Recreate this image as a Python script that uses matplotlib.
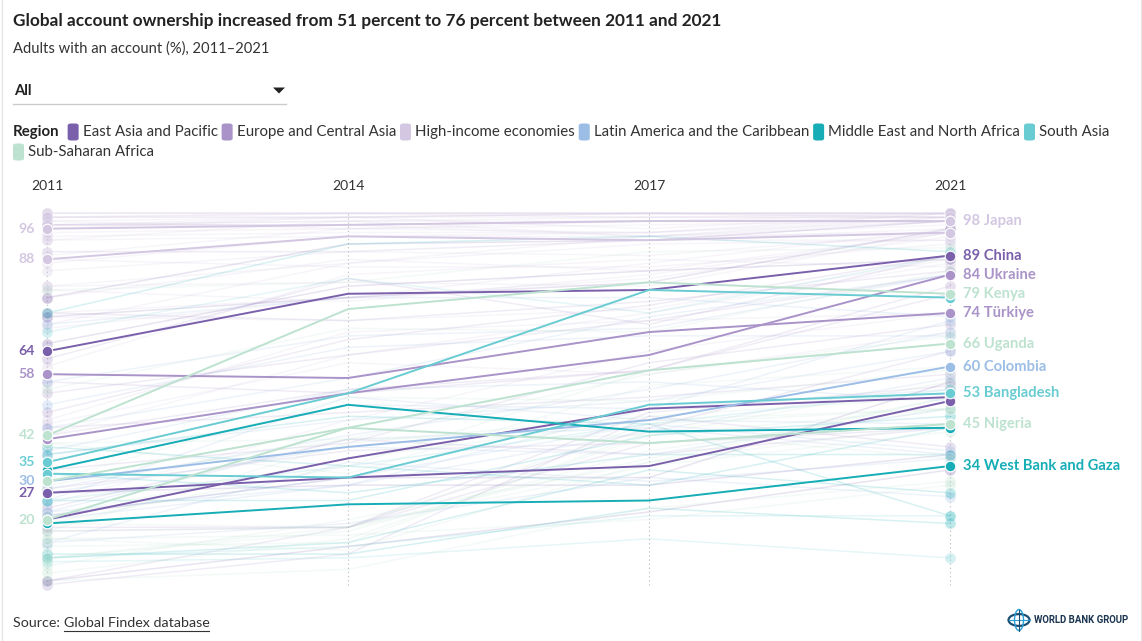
import matplotlib
matplotlib.use("Agg")
import matplotlib.pyplot as plt
from matplotlib.patches import FancyBboxPatch, Circle, Polygon, Ellipse
from matplotlib.lines import Line2D

W, H = 1142, 641
FONT = "Lato"
plt.rcParams['font.family'] = [FONT, 'DejaVu Sans']

years = ["2011", "2014", "2017", "2021"]
region_names = ["East Asia and Pacific", "Europe and Central Asia", "High-income economies",
                "Latin America and the Caribbean", "Middle East and North Africa",
                "South Asia", "Sub-Saharan Africa"]
region_codes = ["EAP", "ECA", "HI", "LAC", "MENA", "SA", "SSA"]
region_colors = ["#7a5fab", "#a993c8", "#d3c7e2", "#9bbde6", "#16adb6", "#69ccd2", "#bde2d0"]

countries = (
    # HI
    ["Japan", "United States", "Australia", "Austria", "Belgium", "Canada", "Denmark", "Finland",
     "France", "Germany", "Netherlands", "Norway", "Sweden", "United Kingdom", "Spain", "Italy",
     "Greece", "Portugal", "Korea", "Singapore", "Israel", "Saudi Arabia", "United Arab Emirates",
     "Chile", "Uruguay", "Poland", "Hungary", "Croatia", "Czechia", "Slovakia", "Slovenia",
     "Latvia", "Lithuania", "Estonia", "Romania", "Hong Kong", "Taiwan", "New Zealand",
     "Ireland", "Cyprus", "Malta"]
    # ECA
    + ["Ukraine", "Türkiye", "Russia", "Kazakhstan", "Serbia", "Bulgaria", "Georgia", "Armenia",
       "Albania", "North Macedonia", "Bosnia and Herzegovina", "Moldova", "Kyrgyz Republic",
       "Tajikistan", "Uzbekistan", "Kosovo"]
    # EAP
    + ["China", "Indonesia", "Philippines", "Cambodia", "Vietnam", "Thailand", "Malaysia",
       "Mongolia", "Lao PDR"]
    # LAC
    + ["Colombia", "Brazil", "Mexico", "Argentina", "Peru", "Bolivia", "Ecuador", "Paraguay",
       "Costa Rica", "Dominican Republic", "El Salvador", "Guatemala", "Honduras", "Nicaragua",
       "Panama", "Venezuela", "Jamaica"]
    # MENA
    + ["West Bank and Gaza", "Algeria", "Egypt", "Morocco", "Tunisia", "Jordan", "Lebanon",
       "Iran", "Iraq"]
    # SA
    + ["India", "Bangladesh", "Pakistan", "Sri Lanka", "Nepal", "Afghanistan"]
    # SSA
    + ["Kenya", "Uganda", "Nigeria", "South Africa", "Ghana", "Tanzania", "Zambia", "Zimbabwe",
       "Mozambique", "Senegal", "Cameroon", "Benin", "Burkina Faso", "Mali", "Guinea", "Malawi",
       "Sierra Leone", "Togo", "Liberia", "Mauritius", "Gabon", "Botswana"]
)
regions = ["HI"] * 41 + ["ECA"] * 16 + ["EAP"] * 9 + ["LAC"] * 17 + ["MENA"] * 9 + ["SA"] * 6 + ["SSA"] * 22

v2011 = ([96, 88, 99, 97, 97, 96, 100, 100, 97, 98, 99, 100, 99, 97, 93, 71, 78, 81, 93, 98, 90,
          46, 60, 42, 24, 70, 73, 88, 81, 80, 97, 90, 74, 97, 45, 89, 87, 99, 94, 85, 95]
         + [41, 58, 48, 42, 62, 53, 33, 17, 28, 74, 56, 18, 4, 3, 23, 44]
         + [64, 20, 27, 4, 21, 73, 66, 78, 27]
         + [30, 56, 27, 33, 20, 28, 37, 22, 50, 38, 14, 22, 21, 14, 25, 44, 71]
         + [19, 33, 10, 39, 32, 25, 37, 74, 11]
         + [35, 32, 10, 69, 25, 9]
         + [42, 20, 30, 54, 29, 17, 21, 40, 40, 6, 15, 10, 13, 8, 4, 17, 15, 10, 19, 80, 19, 30])
v2014 = ([97, 94, 99, 97, 98, 99, 100, 100, 97, 99, 99, 100, 100, 99, 98, 87, 88, 87, 94, 96, 90,
          69, 84, 63, 46, 78, 72, 86, 82, 77, 97, 90, 78, 98, 61, 96, 94, 100, 95, 90, 96]
         + [53, 57, 67, 54, 83, 63, 40, 18, 38, 72, 53, 18, 18, 11, 41, 48]
         + [79, 36, 31, 13, 31, 78, 81, 92, 29]
         + [39, 68, 39, 50, 29, 42, 46, 29, 65, 54, 35, 41, 31, 19, 52, 57, 78]
         + [24, 50, 14, 34, 27, 25, 47, 92, 11]
         + [53, 31, 13, 83, 34, 10]
         + [75, 44, 44, 70, 41, 40, 36, 32, 41, 15, 12, 17, 14, 20, 7, 18, 16, 18, 18, 82, 34, 52])
v2017 = ([98, 93, 100, 98, 99, 100, 100, 100, 94, 99, 100, 100, 100, 96, 94, 94, 85, 92, 95, 98, 93,
          72, 88, 74, 64, 87, 75, 86, 81, 84, 98, 93, 83, 98, 58, 95, 94, 99, 95, 89, 97]
         + [63, 69, 76, 59, 71, 72, 61, 48, 40, 77, 59, 44, 40, 47, 37, 52]
         + [80, 49, 34, 22, 31, 82, 85, 93, 29]
         + [46, 70, 37, 49, 43, 54, 51, 49, 68, 56, 30, 44, 45, 31, 46, 73, 78]
         + [25, 43, 33, 29, 37, 42, 45, 94, 23]
         + [80, 50, 21, 74, 45, 15]
         + [82, 59, 40, 69, 58, 47, 46, 55, 42, 42, 35, 38, 43, 35, 23, 34, 20, 45, 36, 90, 59, 51])
v2021 = ([98, 95, 99, 100, 99, 100, 100, 100, 99, 100, 100, 99, 100, 100, 98, 97, 95, 93, 99, 98, 93,
          74, 86, 87, 74, 96, 88, 92, 95, 95, 98, 96, 94, 99, 69, 98, 95, 99, 100, 95, 98]
         + [84, 74, 89, 81, 89, 84, 71, 55, 44, 85, 79, 64, 45, 39, 44, 58]
         + [89, 52, 51, 33, 56, 96, 88, 98, 37]
         + [60, 84, 49, 72, 57, 69, 64, 54, 68, 51, 36, 37, 38, 26, 45, 84, 73]
         + [34, 44, 27, 44, 37, 47, 21, 90, 19]
         + [78, 53, 21, 89, 54, 10]
         + [79, 66, 45, 85, 68, 52, 49, 60, 49, 56, 52, 49, 36, 45, 30, 43, 29, 49, 52, 91, 66, 59])

highlight = ["Japan", "United States", "China", "Indonesia", "Philippines", "Ukraine", "Türkiye",
             "Colombia", "Algeria", "West Bank and Gaza", "India", "Bangladesh", "Kenya",
             "Uganda", "Nigeria"]
right_labeled = ["Japan", "China", "Ukraine", "Kenya", "Türkiye", "Uganda", "Colombia",
                 "Bangladesh", "Nigeria", "West Bank and Gaza"]
left_labeled = ["Japan", "United States", "China", "Türkiye", "Kenya", "India", "Colombia",
                "Philippines", "Uganda"]

color_of = dict(zip(region_codes, region_colors))

fig = plt.figure(figsize=(W / 100, H / 100), dpi=100)
fig.patch.set_facecolor("white")


def ftext(x, y, s, **kw):
    return fig.text(x / W, 1 - y / H, s, **kw)


# ---- header ----
ftext(13, 21, "Global account ownership increased from 51 percent to 76 percent between 2011 and 2021",
      fontsize=12.45, fontweight="bold", color="#222222", va="center", ha="left")
ftext(13, 49, "Adults with an account (%), 2011–2021", fontsize=10.6, color="#333333",
      va="center", ha="left")
ftext(14, 91, "All", fontsize=10.6, fontweight="bold", color="#222222", va="center", ha="left")
fig.add_artist(Line2D([13 / W, 286 / W], [1 - 104 / H, 1 - 104 / H], color="#cccccc", lw=1))
fig.add_artist(Polygon([[273 / W, 1 - 87.5 / H], [285 / W, 1 - 87.5 / H], [279 / W, 1 - 93.5 / H]],
                       closed=True, color="#222222", lw=0))

# ---- legend (sequential layout) ----
fig.canvas.draw()
renderer = fig.canvas.get_renderer()
LFS = 10.8
t = ftext(13, 132, "Region", fontsize=LFS, fontweight="bold", color="#222222", va="center", ha="left")
x = t.get_window_extent(renderer).x1 + 8
row_y = 132
for name, col in zip(region_names, region_colors):
    tw_probe = fig.text(0, 0, name, fontsize=LFS)
    tw = tw_probe.get_window_extent(renderer).width
    tw_probe.remove()
    if x + 16 + tw > 1130:
        x = 13
        row_y = 152
    fig.add_artist(FancyBboxPatch((x / W, 1 - (row_y + 8.5) / H), 11 / W, 17 / H,
                                  boxstyle="round,pad=0,rounding_size=0.003", color=col, lw=0))
    tt = ftext(x + 15, row_y, name, fontsize=LFS, color="#333333", va="center", ha="left")
    x = tt.get_window_extent(renderer).x1 + 4

# ---- chart ----
x_px = [47, 348, 649, 950]
y0_px, y100_px = 596.2, 213.4
ax = fig.add_axes([x_px[0] / W, (H - y0_px) / H, (x_px[-1] - x_px[0]) / W, (y0_px - y100_px) / H])
ax.set_xlim(0, 3)
ax.set_ylim(0, 100)
ax.axis("off")
xs = [0, 1, 2, 3]

for xi, yr in zip(x_px, years):
    ftext(xi, 186, yr, fontsize=10, color="#333333", ha="center", va="center")
for xv in xs:
    ax.plot([xv, xv], [3, 100], ls=(0, (1.2, 2.5)), color="#c4c4c4", lw=0.8, clip_on=False, zorder=0)

for i, c in enumerate(countries):
    if c in highlight:
        continue
    col = color_of[regions[i]]
    vals = [v2011[i], v2014[i], v2017[i], v2021[i]]
    ax.plot(xs, vals, color=col, alpha=0.17, lw=1.1, clip_on=False, zorder=1)
    ax.scatter([0, 3], [vals[0], vals[3]], s=62, color=col, alpha=0.28, edgecolors="white",
               linewidths=0.6, zorder=2, clip_on=False)

for c in highlight:
    i = countries.index(c)
    col = color_of[regions[i]]
    vals = [v2011[i], v2014[i], v2017[i], v2021[i]]
    ax.plot(xs, vals, color=col, lw=1.4, clip_on=False, zorder=4, solid_capstyle="round")
    ax.scatter([0, 3], [vals[0], vals[3]], s=58, color=col, edgecolors="white", linewidths=0.8,
               zorder=5, clip_on=False)

for c in right_labeled:
    i = countries.index(c)
    ax.annotate(f"{v2021[i]} {c}", xy=(3, v2021[i]), xytext=(9.5, 0), textcoords="offset points",
                ha="left", va="center", fontsize=10.6, fontweight="bold", color=color_of[regions[i]],
                annotation_clip=False)
for c in left_labeled:
    i = countries.index(c)
    ax.annotate(f"{v2011[i]}", xy=(0, v2011[i]), xytext=(-8.5, 0), textcoords="offset points",
                ha="right", va="center", fontsize=10.2, fontweight="bold", color=color_of[regions[i]],
                annotation_clip=False)

# ---- footer ----
s1 = ftext(13, 623, "Source: ", fontsize=10.3, color="#333333", va="center", ha="left")
sx = s1.get_window_extent(renderer).x1
s2 = ftext(sx, 623, "Global Findex database", fontsize=10.3, color="#333333", va="center", ha="left")
bb = s2.get_window_extent(renderer)
fig.add_artist(Line2D([bb.x0 / W, bb.x1 / W], [1 - 631 / H, 1 - 631 / H], color="#333333", lw=0.8))

# World Bank Group logo
lx, ly, r = 1019, 620, 10.5
fig.add_artist(Circle((lx / W, 1 - ly / H), r / W, transform=fig.transFigure, fill=False,
                      edgecolor="#1c4f72", lw=1.6))
fig.add_artist(Ellipse((lx / W, 1 - ly / H), 9 / W, 21 / H, transform=fig.transFigure, fill=False,
                       edgecolor="#2a9fd6", lw=1.0))
fig.add_artist(Line2D([(lx - r) / W, (lx + r) / W], [1 - ly / H, 1 - ly / H], color="#2a9fd6", lw=0.8))
fig.add_artist(Line2D([lx / W, lx / W], [1 - (ly - r) / H, 1 - (ly + r) / H], color="#1c4f72", lw=0.8))
ftext(1034, 620, "WORLD BANK GROUP", fontsize=6.9, fontweight="bold", color="#1c3550",
      va="center", ha="left", family=["Roboto", "DejaVu Sans"])

# frame edges
fig.add_artist(Line2D([1.5 / W, 1.5 / W], [0, 1], color="#e6e6e6", lw=1))
fig.add_artist(Line2D([1 - 1.5 / W, 1 - 1.5 / W], [0, 1], color="#e6e6e6", lw=1))

fig.savefig("out.png", dpi=100, facecolor="white")
